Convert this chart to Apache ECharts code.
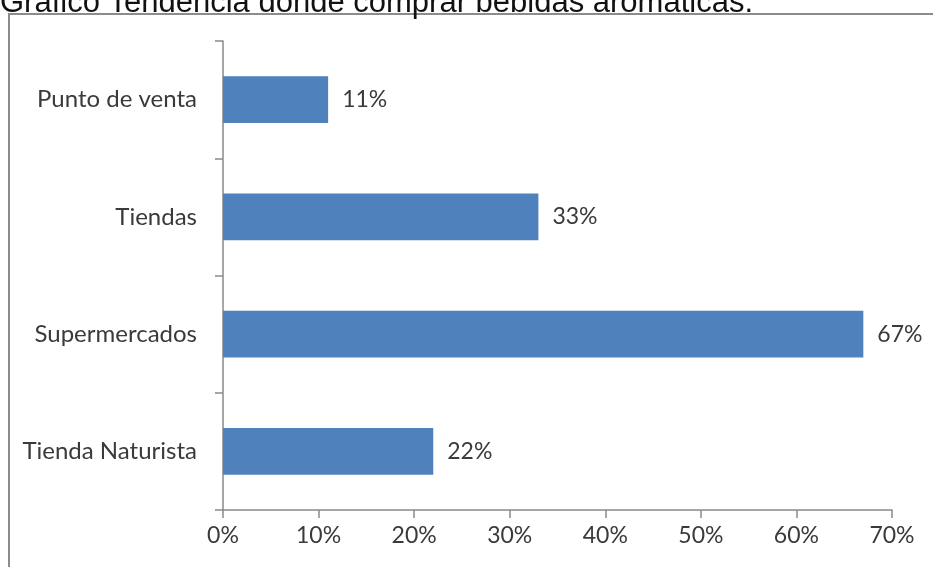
<!DOCTYPE html>
<html>
<head>
<meta charset="utf-8">
<script src="https://cdn.jsdelivr.net/npm/echarts@6/dist/echarts.min.js"></script>
<style>
  html, body { margin: 0; padding: 0; background: #ffffff; }
  #chart { width: 933px; height: 567px; }
</style>
</head>
<body>
<div id="chart"></div>
<script>
// Where people buy herbal / aromatic drinks (share of responses, %)
const titleText = 'Gráfico Tendencia donde comprar bebidas aromáticas.';
const categories = ['Punto de venta', 'Tiendas', 'Supermercados', 'Tienda Naturista'];
const shares = [11, 33, 67, 22];
const tickValues = [0, 10, 20, 30, 40, 50, 60, 70];

const labelFont = 'Lato, "Open Sans", "DejaVu Sans", sans-serif';
const axisGrey = '#8a8a8a';
const textGrey = '#3a3a3a';

const chart = echarts.init(document.getElementById('chart'), null, { renderer: 'canvas' });

chart.setOption({
  animation: false,
  backgroundColor: '#ffffff',
  graphic: [
    {
      type: 'rect',
      left: 8, top: 13,
      shape: { width: 960, height: 600 },
      style: { fill: '#ffffff', stroke: '#8c8c8c', lineWidth: 2 },
      z: -10
    },
    {
      type: 'text',
      left: 0, top: -12,
      style: {
        text: titleText,
        fill: '#111111',
        font: '31px "Liberation Sans", Arial, sans-serif'
      }
    }
  ],
  grid: { left: 223, right: 41, top: 41, bottom: 57, containLabel: false },
  xAxis: {
    type: 'value',
    min: tickValues[0],
    max: tickValues[tickValues.length - 1],
    interval: 10,
    splitLine: { show: false },
    axisLine: { show: true, lineStyle: { color: axisGrey, width: 1.5 } },
    axisTick: { show: true, length: 8, lineStyle: { color: axisGrey, width: 1.5 } },
    axisLabel: {
      margin: 14,
      color: textGrey,
      fontSize: 23,
      fontFamily: labelFont,
      formatter: v => v + '%'
    }
  },
  yAxis: {
    type: 'category',
    data: categories,
    inverse: true,
    axisLine: { show: true, lineStyle: { color: axisGrey, width: 1.5 } },
    axisTick: { show: true, length: 8, lineStyle: { color: axisGrey, width: 1.5 } },
    axisLabel: {
      margin: 26,
      color: textGrey,
      fontSize: 24,
      fontFamily: labelFont
    }
  },
  series: [{
    type: 'bar',
    data: shares,
    barCategoryGap: '60%',
    itemStyle: { color: '#4f81bd' },
    label: {
      show: true,
      position: 'right',
      distance: 14,
      color: textGrey,
      fontSize: 23,
      fontFamily: labelFont,
      formatter: p => p.value + '%'
    }
  }]
});
</script>
</body>
</html>
